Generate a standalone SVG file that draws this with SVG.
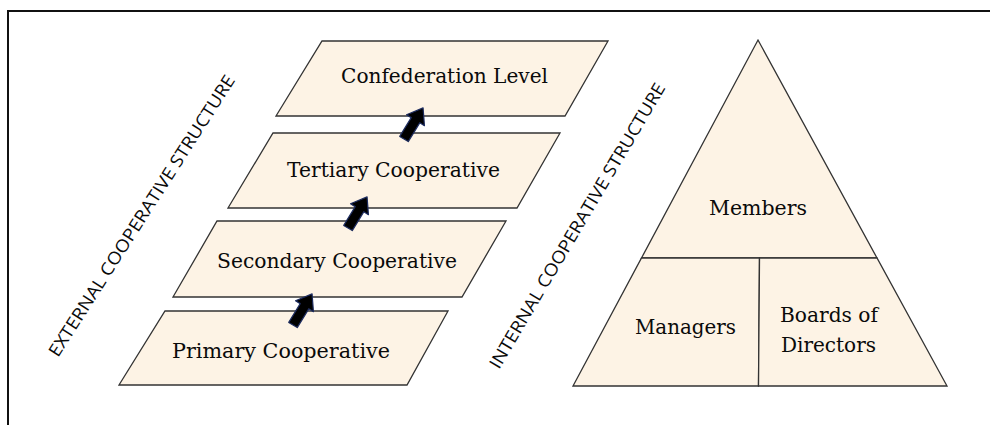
<svg xmlns="http://www.w3.org/2000/svg" width="990" height="425" viewBox="0 0 990 425">
<style>
.shape{fill:#FDF3E5;stroke:#333;stroke-width:1.3;stroke-linejoin:miter}
.lbl{font-family:"DejaVu Serif","Liberation Serif",serif;font-size:21px;fill:#0a0a0a}
.side{font-family:"Open Sans","Liberation Sans",sans-serif;font-size:17.5px;fill:#0a0a0a}
.arrow{fill:#000;stroke:#1c2b5e;stroke-width:1.2;stroke-linejoin:round}
</style>
<defs>
<path id="arr" d="M-5,0 L5,0 L5,-22 L10.5,-22 L0,-36.5 L-10.5,-22 L-5,-22 Z"/>
</defs>
<rect x="0" y="0" width="990" height="425" fill="#fff"/>
<path d="M8,425 V11 H990" fill="none" stroke="#111" stroke-width="2"/>

<g id="primary">
<polygon class="shape" points="165,311 448,311 407,385 119,385"/>
<text class="lbl" x="172" y="358" textLength="218" lengthAdjust="spacingAndGlyphs">Primary Cooperative</text>
</g>
<g id="secondary">
<polygon class="shape" points="217,221 506,221 462,297 173,297"/>
<text class="lbl" x="217" y="268" textLength="240" lengthAdjust="spacingAndGlyphs">Secondary Cooperative</text>
</g>
<g id="tertiary">
<polygon class="shape" points="273,133 560,133 517,208 228,208"/>
<text class="lbl" x="287" y="177" textLength="213" lengthAdjust="spacingAndGlyphs">Tertiary Cooperative</text>
</g>
<g id="confederation">
<polygon class="shape" points="322,41 608,41 565,116 276,116"/>
<text class="lbl" x="341" y="83" textLength="207" lengthAdjust="spacingAndGlyphs">Confederation Level</text>
</g>

<g id="connectors">
<use href="#arr" class="arrow" transform="translate(293,325) rotate(31.5)"/>
<use href="#arr" class="arrow" transform="translate(348,228) rotate(31.5)"/>
<use href="#arr" class="arrow" transform="translate(404,139) rotate(31.5)"/>
</g>

<g id="external-label">
<text class="side" transform="translate(58,358) rotate(-57.4)" textLength="330" lengthAdjust="spacingAndGlyphs">EXTERNAL COOPERATIVE STRUCTURE</text>
</g>
<g id="internal-label">
<text class="side" transform="translate(499,370) rotate(-59.4)" textLength="328" lengthAdjust="spacingAndGlyphs">INTERNAL COOPERATIVE STRUCTURE</text>
</g>

<g id="members">
<polygon class="shape" points="758,40 877,258 641.5,258"/>
<text class="lbl" x="709" y="215" textLength="98" lengthAdjust="spacingAndGlyphs">Members</text>
</g>
<g id="managers">
<polygon class="shape" points="641.5,258 759.5,258 758.5,386 573,386"/>
<text class="lbl" x="635" y="334" textLength="101" lengthAdjust="spacingAndGlyphs">Managers</text>
</g>
<g id="boards">
<polygon class="shape" points="759.5,258 877,258 947,386 758.5,386"/>
<text class="lbl" x="780" y="322" textLength="98" lengthAdjust="spacingAndGlyphs">Boards of</text>
<text class="lbl" x="781" y="352" textLength="95" lengthAdjust="spacingAndGlyphs">Directors</text>
</g>
</svg>
